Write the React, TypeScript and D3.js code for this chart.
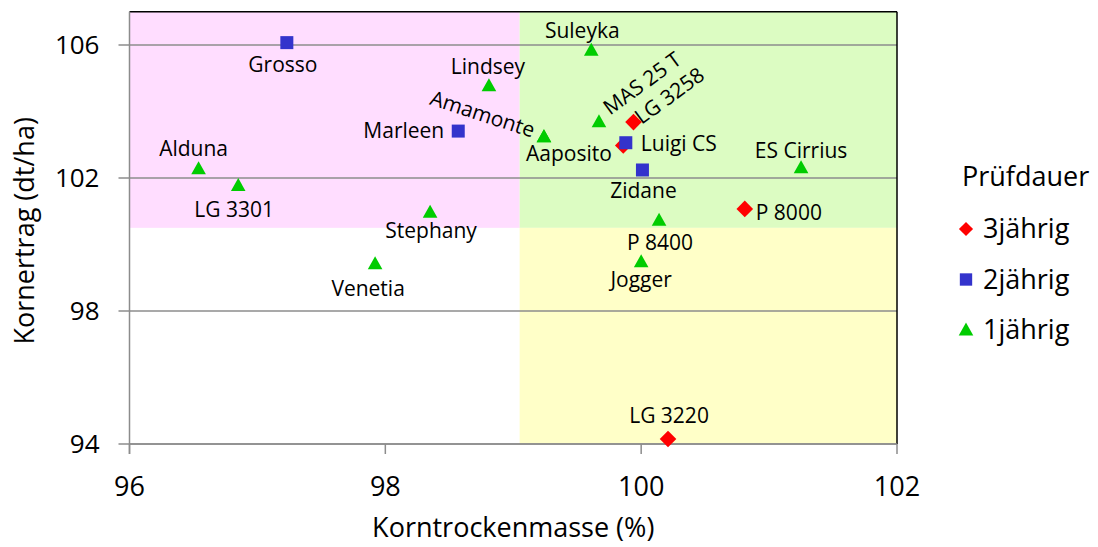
import React from 'react';
import * as d3 from 'd3';

// Sorten (Körnermais), Korntrockenmasse (%) vs. Kornertrag (dt/ha), relativ
const names = [
    '', 'LG 3258', 'P 8000', 'LG 3220',
    'Grosso', 'Marleen', 'Luigi CS', 'Zidane',
    'Suleyka', 'Lindsey', 'Amamonte', 'Aaposito', 'MAS 25 T', 'Alduna',
    'LG 3301', 'Stephany', 'Venetia', 'ES Cirrius', 'P 8400', 'Jogger'
];
const korntrockenmasse = [
    99.86, 99.94, 100.81, 100.21,
    97.23, 98.57, 99.88, 100.01,
    99.61, 98.81, 99.24, 99.24, 99.67, 96.54,
    96.85, 98.35, 97.92, 101.25, 100.14, 100.0
];
const kornertrag = [
    102.98, 103.68, 101.07, 94.15,
    106.07, 103.41, 103.06, 102.24,
    105.84, 104.77, 103.24, 103.24, 103.69, 102.28,
    101.77, 100.97, 99.42, 102.31, 100.73, 99.48
];
const pruefdauer = [
    3, 3, 3, 3,
    2, 2, 2, 2,
    1, 1, 1, 1, 1, 1,
    1, 1, 1, 1, 1, 1
];

const seriesKeys = [3, 2, 1];
const seriesLabels = ['3jährig', '2jährig', '1jährig'];
const xTicks = [96, 98, 100, 102];
const yTicks = [94, 98, 102, 106];

// Quadranten-Grenzen
const xSplit = 99.05;
const ySplit = 100.5;

// label placement (pixel offsets from the marker), same order as names
const labelPlacement = [
    { dx: 0, dy: 0, anchor: 'middle', rotate: 0 },
    { dx: 8, dy: 3, anchor: 'start', rotate: -36 },
    { dx: 11, dy: 11, anchor: 'start', rotate: 0 },
    { dx: 1, dy: -16, anchor: 'middle', rotate: 0 },
    { dx: -4, dy: 29, anchor: 'middle', rotate: 0 },
    { dx: -14, dy: 7, anchor: 'end', rotate: 0 },
    { dx: 15, dy: 8, anchor: 'start', rotate: 0 },
    { dx: 1, dy: 28, anchor: 'middle', rotate: 0 },
    { dx: -9, dy: -12, anchor: 'middle', rotate: 0 },
    { dx: -1, dy: -12, anchor: 'middle', rotate: 0 },
    { dx: -12, dy: 1, anchor: 'end', rotate: 18 },
    { dx: -18, dy: 24, anchor: 'start', rotate: 0 },
    { dx: 11, dy: -6, anchor: 'start', rotate: -36 },
    { dx: -5, dy: -13, anchor: 'middle', rotate: 0 },
    { dx: -4, dy: 31, anchor: 'middle', rotate: 0 },
    { dx: 1, dy: 26, anchor: 'middle', rotate: 0 },
    { dx: -7, dy: 32, anchor: 'middle', rotate: 0 },
    { dx: 0, dy: -10, anchor: 'middle', rotate: 0 },
    { dx: 1, dy: 30, anchor: 'middle', rotate: 0 },
    { dx: 0, dy: 25, anchor: 'middle', rotate: 0 }
];

const colors = { 3: '#ff0000', 2: '#3333cc', 1: '#00cc00' };
const font = '"Open Sans", "Noto Sans", sans-serif';

const W = 1098, H = 547;
const margin = { top: 11.7, right: 201, bottom: 103, left: 129.5 };

function markerPath(kind: number) {
    if (kind === 3) return 'M0,-8.3L8.3,0L0,8.3L-8.3,0Z';
    if (kind === 2) return 'M-6.5,-6.5H6.5V6.5H-6.5Z';
    return 'M0,-7.5L7.3,5.5L-7.3,5.5Z';
}

export default function App() {
    const x = d3.scaleLinear().domain([96, 102]).range([margin.left, W - margin.right]);
    const y = d3.scaleLinear().domain([94, 107]).range([H - margin.bottom, margin.top]);

    const points = names.map((n, i) => ({
        name: n,
        x: korntrockenmasse[i],
        y: kornertrag[i],
        s: pruefdauer[i],
        lp: labelPlacement[i]
    }));
    // Excel draws series in order: 3jährig first
    const ordered = seriesKeys.flatMap(k => points.filter(p => p.s === k));

    const x0 = x(96), x1 = x(102), y0 = y(94), y1 = y(107);
    const grid = '#8c8c8c';

    return (
        <svg width={W} height={H} style={{ position: 'absolute', left: 0, top: 0, background: '#fff' }}
             fontFamily={font}>
            {/* quadrants */}
            <rect x={x0} y={y1} width={x(xSplit) - x0} height={y(ySplit) - y1} fill="#ffddff" />
            <rect x={x(xSplit)} y={y1} width={x1 - x(xSplit)} height={y(ySplit) - y1} fill="#dcfcc2" />
            <rect x={x(xSplit)} y={y(ySplit)} width={x1 - x(xSplit)} height={y0 - y(ySplit)} fill="#ffffc8" />

            {/* gridlines + y ticks */}
            {yTicks.map(t => (
                <g key={'y' + t}>
                    <line x1={x0 - 11} x2={x1} y1={y(t)} y2={y(t)} stroke={grid} strokeWidth={1.5} />
                    <text x={x0 - 30} y={y(t)} dy="0.35em" textAnchor="end" fontSize={26} fill="#000">{t}</text>
                </g>
            ))}
            {/* frame */}
            <line x1={x0} x2={x1} y1={y1} y2={y1} stroke="#000" strokeWidth={1.5} />
            <line x1={x1} x2={x1} y1={y1} y2={y0} stroke="#000" strokeWidth={1.5} />
            <line x1={x0} x2={x0} y1={y1} y2={y0 + 10} stroke={grid} strokeWidth={1.5} />
            <line x1={x0} x2={x1} y1={y0} y2={y0} stroke={grid} strokeWidth={1.5} />
            {xTicks.map(t => (
                <g key={'x' + t}>
                    <line x1={x(t)} x2={x(t)} y1={y0} y2={y0 + 10} stroke={grid} strokeWidth={1.5} />
                    <text x={x(t)} y={y0 + 52} textAnchor="middle" fontSize={27} fill="#000">{t}</text>
                </g>
            ))}

            {/* axis titles */}
            <text x={(x0 + x1) / 2} y={y0 + 93} textAnchor="middle" fontSize={27} fill="#000">Korntrockenmasse (%)</text>
            <text transform={`translate(34,${(y0 + y1) / 2 + 3}) rotate(-90)`} textAnchor="middle" fontSize={27} fill="#000">
                Kornertrag (dt/ha)
            </text>

            {/* markers */}
            {ordered.map((p, i) => (
                <path key={'m' + i} d={markerPath(p.s)} transform={`translate(${x(p.x)},${y(p.y)})`}
                      fill={colors[p.s]} />
            ))}

            {/* labels */}
            {points.filter(p => p.name).map((p, i) => {
                const lx = x(p.x) + p.lp.dx, ly = y(p.y) + p.lp.dy;
                return (
                    <text key={'l' + i} transform={`translate(${lx},${ly}) rotate(${p.lp.rotate})`}
                          textAnchor={p.lp.anchor} fontSize={21} fill="#000">{p.name}</text>
                );
            })}

            {/* legend */}
            <g transform="translate(962,0)">
                <text x={0} y={186} fontSize={27} fill="#000">Prüfdauer</text>
                {seriesKeys.map((k, i) => (
                    <g key={'lg' + k} transform={`translate(0,${229 + i * 50.5})`}>
                        <path d={markerPath(k)} transform={`translate(4,0) scale(${k === 3 ? 0.85 : k === 2 ? 0.95 : 1})`} fill={colors[k]} />
                        <text x={21} y={0} dy="0.35em" fontSize={27} fill="#000">{seriesLabels[i]}</text>
                    </g>
                ))}
            </g>
        </svg>
    );
}
